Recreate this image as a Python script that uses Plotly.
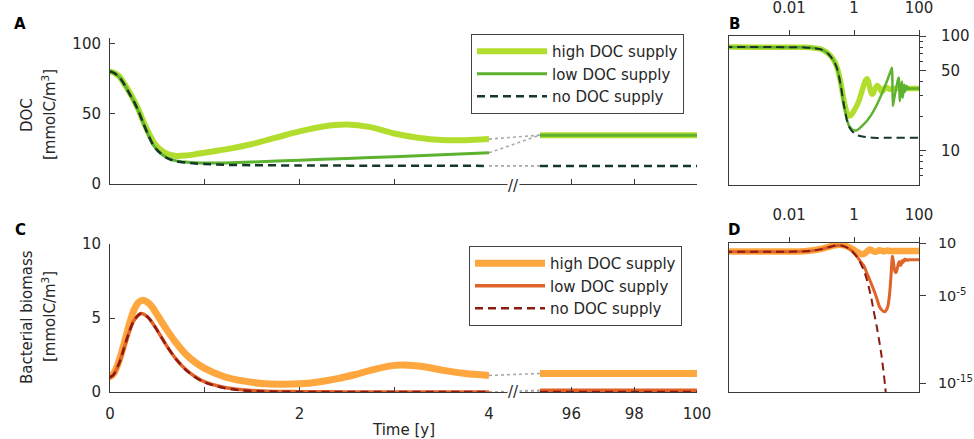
import plotly.graph_objects as go

# ---------------- data ----------------
# DOC [mmolC/m3]
doc_high_t = [0, 1e-4, 0.01, 0.03, 0.05, 0.1, 0.15, 0.2, 0.25, 0.3, 0.35, 0.4, 0.45, 0.5, 0.55, 0.6, 0.7, 0.8, 0.9,
              1.0, 1.25, 1.5, 1.75, 2.0, 2.25, 2.5, 2.75, 3.0, 3.25, 3.5, 3.75, 4.0, 4.5, 5.2, 6, 7, 8, 9.3, 11,
              12.5, 15, 20, 95, 100]
doc_high = [80, 80, 79.9, 79.6, 79, 76.5, 71.5, 66, 60, 53, 45, 37.5, 31, 26.5, 23.5, 21.5, 20, 20.3, 21.2,
            22.3, 25, 28.5, 33, 37.5, 41, 42.3, 40.5, 36, 33, 31.3, 31.2, 32, 35, 37, 35.5, 32.5, 33.5, 35.8, 35,
            34.2, 34.8, 34.8, 34.8, 34.8]

doc_low_t = [0, 1e-4, 0.01, 0.03, 0.05, 0.1, 0.15, 0.2, 0.25, 0.3, 0.35, 0.4, 0.45, 0.5, 0.6, 0.7, 0.8, 0.9, 1.0,
             1.2, 1.5, 2, 2.5, 3, 3.5, 4, 5, 6, 7, 8, 9, 10, 11, 12, 13, 14, 14.8, 15.2, 15.6, 16.5, 18, 20, 22,
             24, 24.8, 25.5, 26.5, 28.5, 30, 30.8, 31.5, 33, 35, 36, 37, 39, 41, 43, 45, 48, 52, 60, 95, 100]
doc_low = [80, 80, 79.9, 79.5, 78.8, 76, 71, 65, 59, 52, 43.5, 35.5, 28.5, 24, 18.7, 16.5, 15.6, 15.2, 15.0,
           15.0, 15.7, 17.0, 18.2, 19.5, 20.8, 22.2, 25, 27.9, 30.8, 33.7, 36.6, 39.5, 42.4, 45.3, 48.2, 51.0,
           52.7, 40, 24.5, 26.5, 30.5, 35.5, 40.5, 43.5, 35, 27, 29.5, 36, 40, 33, 29, 32.5, 37.5, 35.5, 32.5,
           35, 36.8, 35.5, 34.2, 35.3, 34.6, 34.8, 34.8, 34.8]

doc_none_t = [0, 1e-4, 0.01, 0.03, 0.05, 0.1, 0.15, 0.2, 0.25, 0.3, 0.35, 0.4, 0.45, 0.5, 0.6, 0.7, 0.8, 0.9, 1.0,
              1.2, 1.5, 2, 3, 4, 10, 95, 100]
doc_none = [80, 80, 79.9, 79.5, 78.8, 76, 71, 65, 59, 52, 43.5, 35.5, 28.5, 24, 18.5, 16.2, 15.2, 14.6, 14.2,
            13.7, 13.4, 13.2, 13.0, 12.9, 12.9, 12.9, 12.9]

# Bacterial biomass [mmolC/m3]
bac_high_t = [0, 1e-4, 0.003, 0.01, 0.03, 0.05, 0.1, 0.15, 0.2, 0.25, 0.3, 0.35, 0.4, 0.45, 0.5, 0.6, 0.7, 0.8,
              0.9, 1.0, 1.2, 1.4, 1.6, 1.8, 2.0, 2.2, 2.4, 2.6, 2.8, 3.0, 3.1, 3.3, 3.5, 3.75, 4.0, 4.5, 5.2, 6,
              7, 8, 9.3, 11, 12.5, 15, 20, 95, 100]
bac_high = [1.05, 1.05, 1.05, 1.08, 1.18, 1.37, 2.2, 3.3, 4.5, 5.5, 6.05, 6.2, 6.05, 5.7, 5.2, 4.2, 3.3, 2.55,
            2.0, 1.6, 1.05, 0.75, 0.58, 0.52, 0.55, 0.68, 0.9, 1.2, 1.55, 1.8, 1.83, 1.72, 1.48, 1.25, 1.12, 1.0,
            1.15, 1.5, 1.35, 1.1, 1.25, 1.35, 1.2, 1.25, 1.25, 1.25, 1.25]

bac_low_t = [0, 1e-4, 0.003, 0.01, 0.03, 0.05, 0.1, 0.15, 0.2, 0.25, 0.3, 0.33, 0.35, 0.4, 0.45, 0.5, 0.6, 0.7,
             0.8, 0.9, 1.0, 1.2, 1.4, 1.6, 1.8, 2, 2.5, 3, 4, 5, 6, 7, 8, 9, 10, 11, 12, 13, 14, 14.5, 15, 15.5,
             16.5, 18, 19.5, 21, 23, 24.8, 26, 28, 30.5, 32, 34, 36, 38, 41, 45, 50, 60, 95, 100]
bac_low = [1.0, 1.0, 1.0, 1.03, 1.12, 1.3, 2.0, 3.0, 4.0, 4.8, 5.2, 5.3, 5.28, 5.05, 4.65, 4.15, 3.1, 2.2,
           1.52, 1.03, 0.68, 0.32, 0.15, 0.075, 0.04, 0.025, 3.5e-3, 7e-4, 5e-5, 5e-6, 6e-7, 2.5e-7, 1.6e-7,
           1.5e-7, 2.5e-7, 6e-7, 5e-6, 1e-4, 5e-3, 0.05, 0.3, 0.25, 0.05, 0.006, 0.004, 0.008, 0.04, 0.08, 0.03,
           0.03, 0.1, 0.06, 0.08, 0.15, 0.1, 0.13, 0.11, 0.12, 0.12, 0.12, 0.12]

bac_none_t = [0, 1e-4, 0.003, 0.01, 0.03, 0.05, 0.1, 0.15, 0.2, 0.25, 0.3, 0.33, 0.35, 0.4, 0.45, 0.5, 0.6, 0.7,
              0.8, 0.9, 1.0, 1.2, 1.4, 1.6, 1.8, 2, 2.5, 3, 3.5, 4, 5, 6, 7, 8, 9, 10, 11, 95, 100]
bac_none = [1.0, 1.0, 1.0, 1.03, 1.12, 1.3, 2.0, 3.0, 4.0, 4.8, 5.2, 5.3, 5.28, 5.05, 4.65, 4.15, 3.1, 2.2,
            1.5, 1.0, 0.65, 0.28, 0.11, 0.045, 0.018, 8e-3, 6e-4, 4e-5, 3e-6, 2e-7, 3e-9, 6e-11, 1.5e-12, 3e-14,
            6e-16, 1e-17, 0, 0, 0]

labels = ["high DOC supply", "low DOC supply", "no DOC supply"]
seg1_range = [0, 4]
seg2_range = [95, 100]
seg1_major = [0, 2, 4]
seg1_minor = [1, 3]
seg2_ticks = [96, 98, 100]
doc_ticks = [0, 50, 100]
bac_ticks = [0, 5, 10]
logx_ticks = [0.01, 1, 100]
logx_text = ["0.01", "1", "100"]
logdoc_ticks = [10, 50, 100]
logdoc_minor = [6, 7, 8, 9, 20, 30, 40, 60, 70, 80, 90]
logbac_ticks = [10, 1e-5, 1e-15]
logbac_text = ["10", "10<sup>-5</sup>", "10<sup>-15</sup>"]

# ---------------- styling ----------------
W, H = 974, 439
FONT = "DejaVu Sans"
FS = 15
TXT = "#262626"
AX = "#3a3a3a"
greens = ["#b3dd2e", "#5db22f", "#16382a"]
oranges = ["#fea73e", "#e0642a", "#8b1a10"]
widths = [[6, 3, 2.5], [7, 3.5, 2.5]]
dashes = ["solid", "solid", "8px,5px"]


def px(x):
    return x / W


def py(y):
    return 1 - y / H


fig = go.Figure()


def add_group(series, colors, wid, xs, yname, legend_name, logx, logy):
    x1, x2, x3 = xs
    for i, (t, v) in enumerate(series):
        line = dict(color=colors[i], width=wid[i], dash=dashes[i])
        s1 = [(a, b) for a, b in zip(t, v) if a <= 4]
        s2 = [(a, b) for a, b in zip(t, v) if a >= 95]
        fig.add_trace(go.Scatter(x=[a for a, b in s1], y=[b for a, b in s1], mode="lines",
                                 line=dict(line, shape="spline", smoothing=0.8), name=labels[i],
                                 xaxis=x1, yaxis=yname, legend=legend_name, showlegend=True))
        fig.add_trace(go.Scatter(x=[a for a, b in s2], y=[b for a, b in s2], mode="lines", line=line,
                                 xaxis=x2, yaxis=yname, showlegend=False, hoverinfo="skip"))
        # dotted connector across the axis break
        fig.add_trace(go.Scatter(x=[0, 1], y=[s1[-1][1], s2[0][1]], mode="lines",
                                 line=dict(color="#a8a8a8", width=1.6, dash="dot"),
                                 xaxis=x3, yaxis=yname, showlegend=False, hoverinfo="skip"))
    for i, (t, v) in enumerate(series):
        line = dict(color=colors[i], width=wid[i] - 0.5, dash=dashes[i])
        pts = [(a, b) for a, b in zip(t, v) if a > 0 and b > 0]
        fig.add_trace(go.Scatter(x=[a for a, b in pts], y=[b for a, b in pts], mode="lines",
                                 line=dict(line, shape="spline", smoothing=0.5),
                                 xaxis=logx, yaxis=logy, showlegend=False, hoverinfo="skip"))


add_group([(doc_high_t, doc_high), (doc_low_t, doc_low), (doc_none_t, doc_none)], greens, widths[0],
          ("x", "x2", "x3"), "y", "legend", "x4", "y2")
add_group([(bac_high_t, bac_high), (bac_low_t, bac_low), (bac_none_t, bac_none)], oranges, widths[1],
          ("x5", "x6", "x7"), "y3", "legend2", "x8", "y4")

tickfont = dict(family=FONT, size=FS, color=TXT)
base = dict(showgrid=False, zeroline=False, showline=True, linecolor=AX, linewidth=1, tickcolor=AX,
            tickfont=tickfont, fixedrange=True, automargin=False)
minor_in = dict(tickvals=seg1_minor, ticks="inside", ticklen=5, tickcolor=AX)

A_dom = [py(184), py(38)]
C_dom = [py(392), py(244)]
B_dom = [py(185), py(36)]
D_dom = [py(392), py(243)]
s1_dom = [px(110), px(489)]
gap_dom = [px(489), px(540)]
s2_dom = [px(540), px(697)]
log_dom = [px(729), px(919)]

lay = {}
# panel A
lay["xaxis"] = dict(base, domain=s1_dom, range=seg1_range, anchor="y", ticks="inside", ticklen=5,
                    tickvals=seg1_major, showticklabels=False, minor=minor_in)
lay["xaxis2"] = dict(base, domain=s2_dom, range=seg2_range, anchor="y", ticks="inside", ticklen=5,
                     tickvals=seg2_ticks, showticklabels=False)
lay["xaxis3"] = dict(base, domain=gap_dom, range=[0, 1], anchor="y", ticks="", showticklabels=False)
lay["yaxis"] = dict(base, domain=A_dom, range=[0, 104], anchor="x", ticks="inside", ticklen=5,
                    tickvals=doc_ticks, ticklabelstandoff=5)
# panel B
lay["xaxis4"] = dict(base, domain=log_dom, type="log", range=[-3.85, 2], anchor="y2", side="top", mirror=True,
                     ticks="outside", ticklen=5, tickvals=logx_ticks, ticktext=logx_text, ticklabelstandoff=11)
lay["yaxis2"] = dict(base, domain=B_dom, type="log", range=[0.699, 2], anchor="x4", side="right", mirror=True,
                     ticks="outside", ticklen=6, tickvals=logdoc_ticks, ticktext=["10", "50", "100"],
                     ticklabelstandoff=12,
                     minor=dict(tickvals=logdoc_minor, ticks="outside", ticklen=3, tickcolor=AX))
# panel C
lay["xaxis5"] = dict(base, domain=s1_dom, range=seg1_range, anchor="y3", ticks="inside", ticklen=5,
                     tickvals=seg1_major, ticklabelstandoff=8, minor=minor_in)
lay["xaxis6"] = dict(base, domain=s2_dom, range=seg2_range, anchor="y3", ticks="inside", ticklen=5,
                     tickvals=seg2_ticks, ticklabelstandoff=8)
lay["xaxis7"] = dict(base, domain=gap_dom, range=[0, 1], anchor="y3", ticks="", showticklabels=False)
lay["yaxis3"] = dict(base, domain=C_dom, range=[0, 10], anchor="x5", ticks="inside", ticklen=5,
                     tickvals=bac_ticks, ticklabelstandoff=5)
# panel D
lay["xaxis8"] = dict(base, domain=log_dom, type="log", range=[-3.85, 2], anchor="y4", side="top", mirror=True,
                     ticks="outside", ticklen=5, tickvals=logx_ticks, ticktext=logx_text, ticklabelstandoff=11)
lay["yaxis4"] = dict(base, domain=D_dom, type="log", range=[-16, 1], anchor="x8", side="right", mirror=True,
                     ticks="outside", ticklen=6, tickvals=logbac_ticks, ticktext=logbac_text,
                     ticklabelstandoff=9, tickfont=dict(tickfont, size=14.5))

leg = dict(xanchor="left", yanchor="top", bgcolor="white", bordercolor="#444", borderwidth=1,
           font=dict(family=FONT, size=15, color=TXT), itemwidth=70, tracegroupgap=0, traceorder="normal")

ann = []


def text(x, y, s, size=FS, bold=False, angle=0, bg=None):
    d = dict(x=px(x), y=py(y), xref="paper", yref="paper", text=f"<b>{s}</b>" if bold else s,
             showarrow=False, xanchor="center", yanchor="middle", textangle=angle,
             font=dict(family=FONT, size=size, color=TXT if not bold else "black"))
    if bg:
        d.update(bgcolor=bg, borderpad=0)
    ann.append(d)


text(20, 24, "A", 15, True)
text(734, 24, "B", 15, True)
text(20, 230, "C", 15, True)
text(734, 230, "D", 15, True)
text(27, 115, "DOC", angle=-90)
text(49, 115, "[mmolC/m<sup>3</sup>]", angle=-90)
text(27, 317, "Bacterial biomass", angle=-90)
text(49, 317, "[mmolC/m<sup>3</sup>]", angle=-90)
text(403, 430, "Time [y]")
text(513, 186, "//", 15, bg="white")
text(513, 392, "//", 15, bg="white")

fig.update_layout(
    width=W, height=H, margin=dict(l=0, r=0, t=0, b=0, autoexpand=False), plot_bgcolor="white",
    paper_bgcolor="white", font=dict(family=FONT, size=FS, color=TXT),
    legend=dict(leg, x=px(471), y=py(34)),
    legend2=dict(leg, x=px(469), y=py(246)),
    annotations=ann, **lay)

fig.write_html("out.html", config={"displayModeBar": False, "staticPlot": False},
               post_script="document.body.style.margin='0px';document.body.style.overflow='hidden';")
